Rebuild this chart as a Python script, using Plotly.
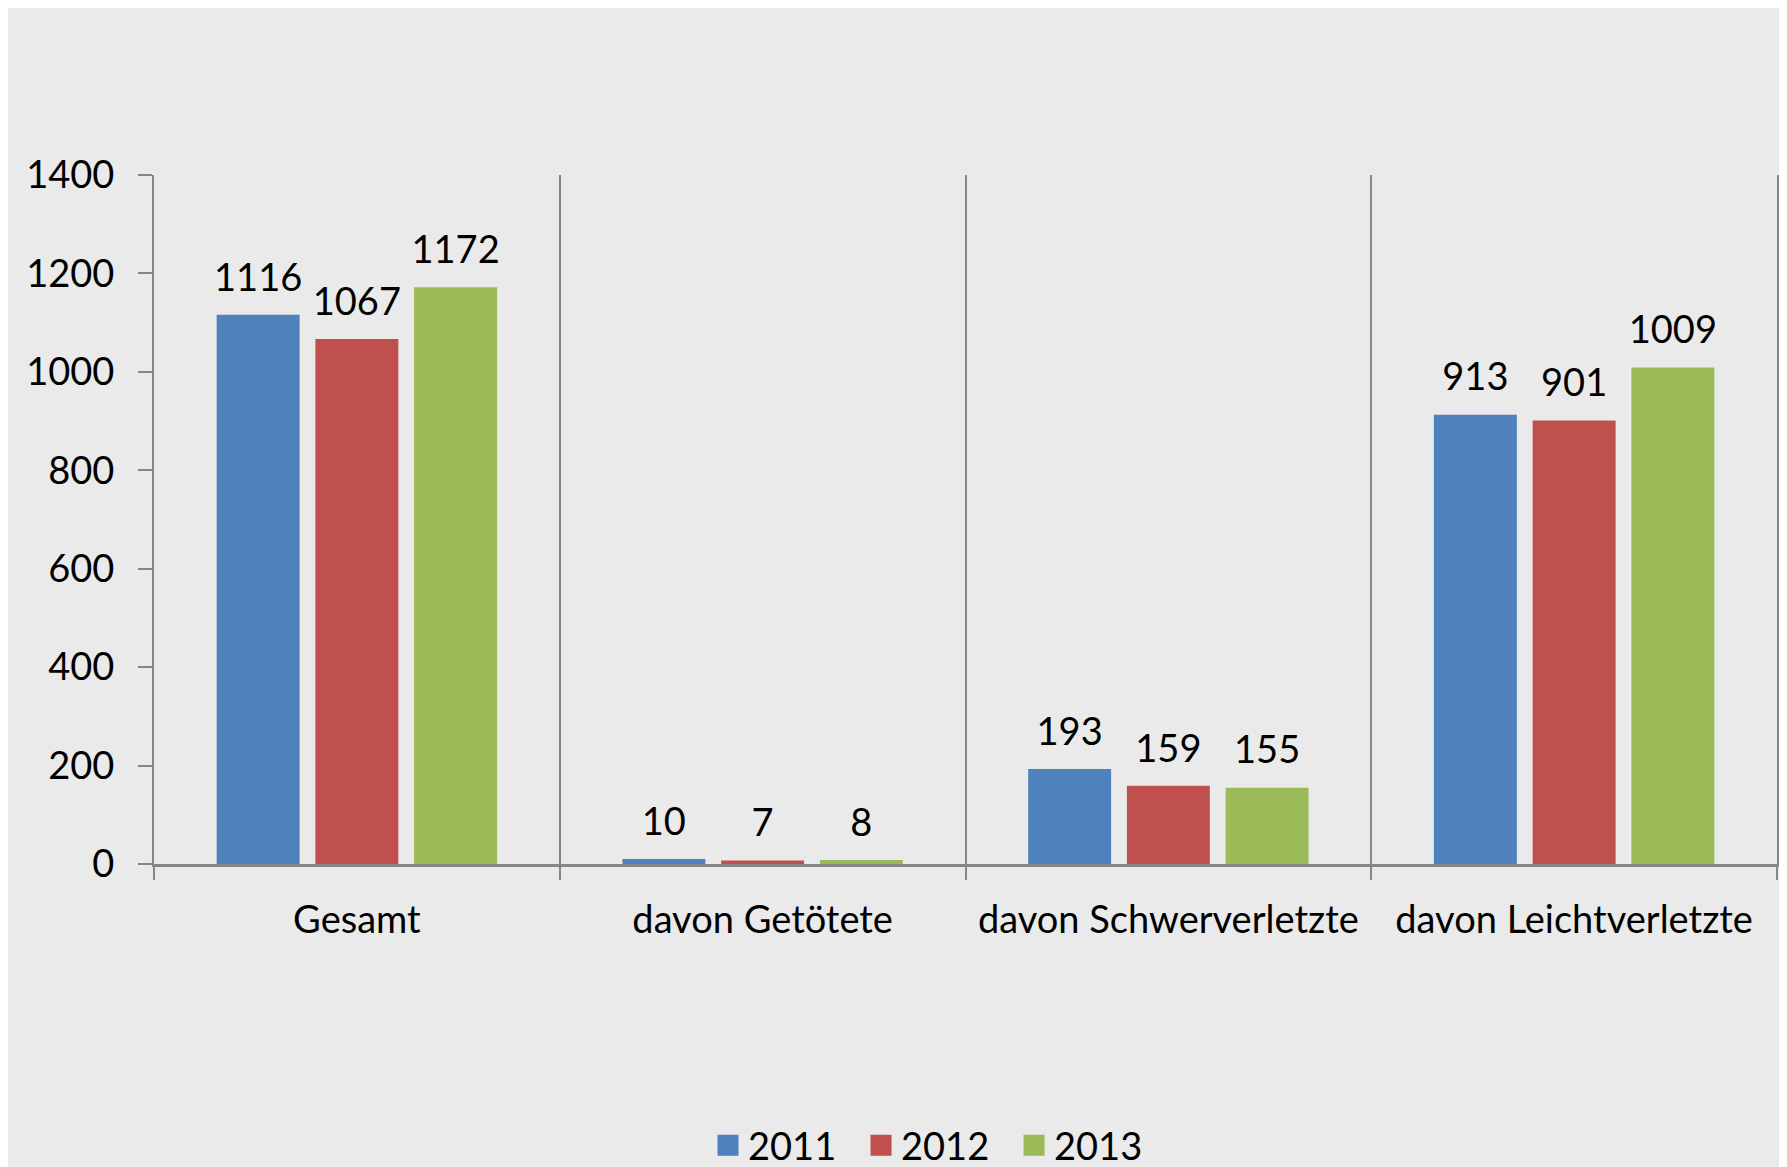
import plotly.graph_objects as go

categories = ["Gesamt", "davon Getötete", "davon Schwerverletzte", "davon Leichtverletzte"]
years = ["2011", "2012", "2013"]
values_2011 = [1116, 10, 193, 913]
values_2012 = [1067, 7, 159, 901]
values_2013 = [1172, 8, 155, 1009]
colors = ["#4F81BD", "#C0504D", "#9BBB59"]

FONT = "Lato"
AXIS_GREY = "#868686"

fig = go.Figure()
for year, vals, color in zip(years, [values_2011, values_2012, values_2013], colors):
    fig.add_trace(
        go.Bar(
            x=categories,
            y=vals,
            name=year,
            offsetgroup=year,
            marker_color=color,
            marker_line_width=0,
            showlegend=False,
            hoverinfo="skip",
        )
    )
    # value labels: grouped scatter text, invisible marker sets the gap above the bar
    fig.add_trace(
        go.Scatter(
            x=categories,
            y=vals,
            name=year,
            offsetgroup=year,
            mode="markers+text",
            text=[str(v) for v in vals],
            textposition="top center",
            textfont=dict(family=FONT, size=38, color="black"),
            marker=dict(size=22, color="rgba(0,0,0,0)"),
            cliponaxis=False,
            showlegend=False,
        )
    )
    # legend-only entry so the square can be bigger than the bar symbol
    fig.add_trace(
        go.Scatter(
            x=[None],
            y=[None],
            name=year,
            offsetgroup=year,
            mode="markers",
            marker=dict(symbol="square", size=16, color=color,
                        line=dict(color=color, width=5)),
        )
    )

fig.update_layout(
    width=1779,
    height=1159,
    barmode="group",
    scattermode="group",
    bargap=0.27,
    bargroupgap=0.16,
    scattergap=0.27,
    paper_bgcolor="#EAEAEA",
    plot_bgcolor="#EAEAEA",
    margin=dict(l=146, r=10, t=167, b=303, autoexpand=False),
    font=dict(family=FONT, size=38, color="black"),
    legend=dict(
        orientation="h",
        xref="container",
        yref="paper",
        x=0.5225,
        y=-0.4543,
        xanchor="center",
        yanchor="bottom",
        entrywidth=108,
        entrywidthmode="pixels",
        font=dict(family=FONT, size=38, color="black"),
        bgcolor="rgba(0,0,0,0)",
    ),
)
fig.update_xaxes(
    tickson="boundaries",
    ticks="outside",
    ticklen=13,
    tickcolor=AXIS_GREY,
    tickwidth=2,
    showgrid=True,
    gridcolor=AXIS_GREY,
    gridwidth=2,
    showline=True,
    linecolor=AXIS_GREY,
    linewidth=2.5,
    ticklabelstandoff=21,
)
fig.update_yaxes(
    range=[0, 1400],
    dtick=200,
    ticks="outside",
    ticklen=14,
    tickcolor=AXIS_GREY,
    tickwidth=2,
    showgrid=False,
    zeroline=False,
    showline=True,
    mirror=True,
    linecolor=AXIS_GREY,
    linewidth=2,
    ticklabelstandoff=16,
)

# the page's default 8px body margin pushes the figure past the window; no scrollbars
fig.write_html("out.html", post_script="document.documentElement.style.overflow = 'hidden';")
